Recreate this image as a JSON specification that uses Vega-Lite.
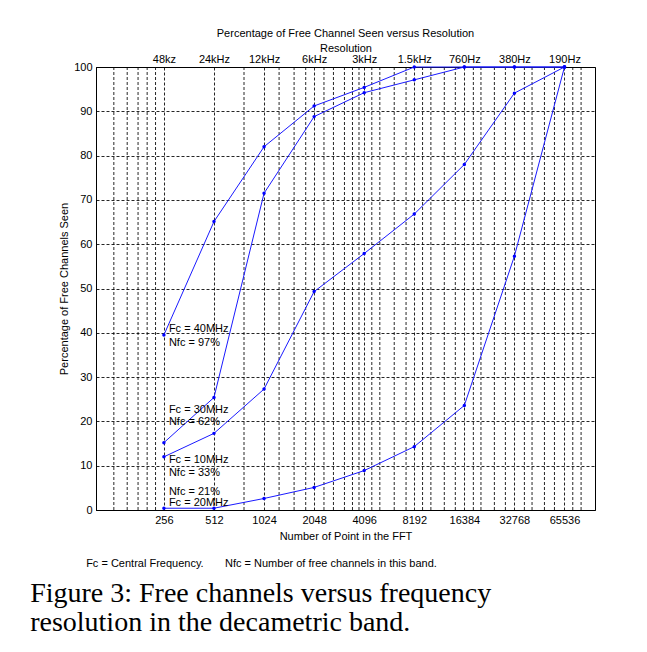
{
  "$schema": "https://vega.github.io/schema/vega-lite/v6.json",
  "background": "white",
  "padding": {"left": 30, "top": 27, "right": 5, "bottom": 5},
  "title": {
    "text": ["Figure 3: Free channels versus frequency", "resolution in the decametric band."],
    "orient": "bottom",
    "anchor": "start",
    "font": "Liberation Serif",
    "fontSize": 28,
    "fontWeight": "normal",
    "color": "black",
    "lineHeight": 29,
    "offset": 11,
    "dx": -28
  },
  "vconcat": [
    {
      "title": {
        "text": "Fc = Central Frequency.\u00a0\u00a0\u00a0\u00a0\u00a0\u00a0 Nfc = Number of free channels in this band.",
        "orient": "bottom",
        "anchor": "start",
        "font": "Liberation Sans",
        "fontSize": 11,
        "fontWeight": "normal",
        "color": "black",
        "offset": 16,
        "dx": 28
      },
      "vconcat": [
        {
          "width": 499,
          "height": 443,
          "title": {
            "text": "Percentage of Free Channel Seen versus Resolution",
            "frame": "group",
            "anchor": "middle",
            "offset": 4,
            "font": "Liberation Sans",
            "fontSize": 11,
            "fontWeight": "normal",
            "color": "black"
          },
          "layer": [
            {
              "data": {"values": [
                {"n": 128}, {"n": 154}, {"n": 179}, {"n": 203}, {"n": 228},
                {"n": 776},
                {"n": 1261}, {"n": 1552}, {"n": 1823},
                {"n": 2347}, {"n": 2676}, {"n": 3117}, {"n": 3483}, {"n": 3812},
                {"n": 4551}, {"n": 5085}, {"n": 6208}, {"n": 7312},
                {"n": 9191}, {"n": 10312}, {"n": 12417}, {"n": 14464},
                {"n": 18561}, {"n": 20627}, {"n": 24834}, {"n": 28930},
                {"n": 37634}, {"n": 41828}, {"n": 49667}, {"n": 57052},
                {"n": 73518}, {"n": 82488}
              ]},
              "mark": {"type": "rule", "color": "black", "strokeWidth": 1, "strokeDash": [3, 2], "opacity": 0.85},
              "encoding": {
                "x": {
                  "field": "n",
                  "type": "quantitative",
                  "scale": {"type": "log", "domain": [100, 100000], "nice": false},
                  "axis": {
                    "orient": "top",
                    "values": [256, 512, 1024, 2048, 4096, 8192, 16384, 32768, 65536],
                    "labelExpr": "['48kz','24kHz','12kHz','6kHz','3kHz','1.5kHz','760Hz','380Hz','190Hz'][round(log(datum.value)/log(2)) - 8]",
                    "title": "Resolution",
                    "titlePadding": 0,
                    "labelPadding": 2.5,
                    "labelFlush": false,
                    "grid": false,
                    "ticks": false
                  }
                }
              }
            },
            {
              "data": {"values": [
                {"series": "40MHz", "n": 256, "pct": 39.5},
                {"series": "40MHz", "n": 512, "pct": 65.1},
                {"series": "40MHz", "n": 1024, "pct": 82.0},
                {"series": "40MHz", "n": 2048, "pct": 91.2},
                {"series": "40MHz", "n": 4096, "pct": 95.4},
                {"series": "40MHz", "n": 8192, "pct": 100},
                {"series": "40MHz", "n": 16384, "pct": 100},
                {"series": "40MHz", "n": 32768, "pct": 100},
                {"series": "40MHz", "n": 65536, "pct": 100},
                {"series": "30MHz", "n": 256, "pct": 15.2},
                {"series": "30MHz", "n": 512, "pct": 25.4},
                {"series": "30MHz", "n": 1024, "pct": 71.5},
                {"series": "30MHz", "n": 2048, "pct": 88.8},
                {"series": "30MHz", "n": 4096, "pct": 94.2},
                {"series": "30MHz", "n": 8192, "pct": 97.1},
                {"series": "30MHz", "n": 16384, "pct": 100},
                {"series": "30MHz", "n": 32768, "pct": 100},
                {"series": "30MHz", "n": 65536, "pct": 100},
                {"series": "10MHz", "n": 256, "pct": 12.0},
                {"series": "10MHz", "n": 512, "pct": 17.3},
                {"series": "10MHz", "n": 1024, "pct": 27.3},
                {"series": "10MHz", "n": 2048, "pct": 49.3},
                {"series": "10MHz", "n": 4096, "pct": 57.9},
                {"series": "10MHz", "n": 8192, "pct": 66.8},
                {"series": "10MHz", "n": 16384, "pct": 78.0},
                {"series": "10MHz", "n": 32768, "pct": 94.1},
                {"series": "10MHz", "n": 65536, "pct": 100},
                {"series": "20MHz", "n": 256, "pct": 0.4},
                {"series": "20MHz", "n": 512, "pct": 0.4},
                {"series": "20MHz", "n": 1024, "pct": 2.6},
                {"series": "20MHz", "n": 2048, "pct": 5.1},
                {"series": "20MHz", "n": 4096, "pct": 8.9},
                {"series": "20MHz", "n": 8192, "pct": 14.3},
                {"series": "20MHz", "n": 16384, "pct": 23.6},
                {"series": "20MHz", "n": 32768, "pct": 57.3},
                {"series": "20MHz", "n": 65536, "pct": 100}
              ]},
              "mark": {
                "type": "line",
                "strokeWidth": 1,
                "color": "#1a1aff",
                "point": {"filled": true, "size": 12, "color": "#0000ff"}
              },
              "encoding": {
                "x": {
                  "field": "n",
                  "type": "quantitative",
                  "scale": {"type": "log", "domain": [100, 100000], "nice": false},
                  "axis": {
                    "orient": "bottom",
                    "values": [256, 512, 1024, 2048, 4096, 8192, 16384, 32768, 65536],
                    "format": "d",
                    "title": "Number of Point in the FFT",
                    "titlePadding": 5,
                    "labelPadding": 4,
                    "labelFlush": false,
                    "grid": true,
                    "ticks": false
                  }
                },
                "y": {
                  "field": "pct",
                  "type": "quantitative",
                  "scale": {"domain": [0, 100], "nice": false},
                  "axis": {
                    "values": [0, 10, 20, 30, 40, 50, 60, 70, 80, 90, 100],
                    "title": "Percentage of Free Channels Seen",
                    "titlePadding": 4,
                    "labelPadding": 4,
                    "labelFlush": false,
                    "grid": true,
                    "ticks": false
                  }
                },
                "detail": {"field": "series", "type": "nominal"}
              }
            },
            {
              "data": {"values": [
                {"t": "Fc = 40MHz", "n": 256, "v": 40.8},
                {"t": "Nfc = 97%", "n": 256, "v": 37.8},
                {"t": "Fc = 30MHz", "n": 256, "v": 22.6},
                {"t": "Nfc = 62%", "n": 256, "v": 19.9},
                {"t": "Fc = 10MHz", "n": 256, "v": 11.3},
                {"t": "Nfc = 33%", "n": 256, "v": 8.3},
                {"t": "Nfc = 21%", "n": 256, "v": 4.1},
                {"t": "Fc = 20MHz", "n": 256, "v": 1.55}
              ]},
              "mark": {"type": "text", "align": "left", "baseline": "middle", "dx": 5, "fontSize": 11, "font": "Liberation Sans", "color": "black"},
              "encoding": {
                "x": {"field": "n", "type": "quantitative", "scale": {"type": "log", "domain": [100, 100000], "nice": false}, "axis": null},
                "y": {"field": "v", "type": "quantitative"},
                "text": {"field": "t", "type": "nominal"}
              }
            }
          ],
          "resolve": {"axis": {"x": "independent"}}
        }
      ]
    }
  ],
  "config": {
    "font": "Liberation Sans",
    "view": {"stroke": "black", "strokeWidth": 1},
    "axis": {
      "labelFont": "Liberation Sans",
      "labelFontSize": 11,
      "labelColor": "black",
      "titleFont": "Liberation Sans",
      "titleFontSize": 11,
      "titleFontWeight": "normal",
      "titleColor": "black",
      "domainColor": "black",
      "domainWidth": 1,
      "gridColor": "black",
      "gridDash": [3, 2],
      "gridOpacity": 0.85,
      "gridWidth": 1
    }
  }
}
